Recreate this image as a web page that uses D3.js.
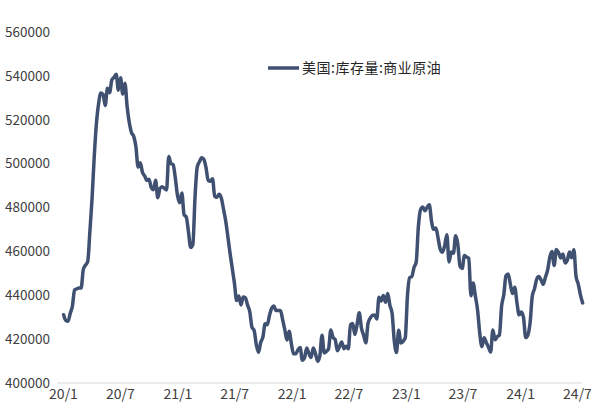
<!DOCTYPE html>
<html>
<head>
<meta charset="utf-8">
<script src="https://cdn.jsdelivr.net/npm/d3@7"></script>
<style>
  body { margin: 0; background: #fff; }
  svg text { font-family: "Noto Sans CJK SC", "Noto Sans", sans-serif; }
</style>
</head>
<body>
<div id="chart"></div>
<script>
// weekly US commercial crude stocks (thousand barrels), first week ending 2020-01-03
const SERIES_NAME = "美国:库存量:商业原油";
const START_DATE = new Date(2020, 0, 3);

const stocks2020 = [431100, 428500, 428100, 431700, 435000, 442500, 442900, 443300, 443300, 451800,
  453700, 455400, 469200, 484400, 503600, 518600, 527600, 532200, 531500, 526500,
  534400, 532300, 538100, 539300, 540700, 533500, 539200, 531700, 536600, 526000,
  518600, 514100, 512500, 507800, 498400, 500400, 496000, 494400, 492400, 492900,
  489100, 488100, 492400, 484400, 488700, 489500, 488700, 488000, 503200, 500100,
  499500, 493500];
const stocks2021 = [485500, 482200, 486600, 476700, 475700, 469000, 461800, 463000, 484600, 498400,
  500800, 502700, 502000, 498300, 492400, 492000, 493100, 485100, 484700, 486000,
  484300, 479300, 474000, 466700, 459100, 452300, 445500, 437600, 439700, 435600,
  439200, 438800, 435500, 432500, 425400, 423900, 417400, 414000, 418500, 420900,
  427000, 426500, 430800, 434100, 435100, 433000, 433000, 433100, 428900, 424300,
  419600, 423600, 417900];
const stocks2022 = [413300, 413300, 415100, 416200, 410400, 411500, 416000, 413400, 411600, 415900,
  413400, 409900, 412400, 421800, 413700, 414400, 415700, 424200, 420800, 419800,
  414700, 416800, 418700, 415600, 416800, 415600, 426600, 427100, 422100, 426600,
  432000, 425000, 421700, 418300, 427200, 429600, 430800, 431000, 429200, 439100,
  437400, 439900, 436800, 440800, 435400, 431700, 419100, 413900, 424100, 418200,
  419000, 420600];
const stocks2023 = [439600, 448000, 448500, 452700, 455100, 471400, 479000, 480200, 478500, 480100,
  481200, 473700, 470000, 470600, 466000, 460900, 459600, 462600, 467600, 455200,
  459700, 459100, 467100, 463300, 453200, 452200, 458100, 457400, 456800, 439800,
  445600, 439700, 433500, 422900, 416600, 420600, 418500, 416300, 414100, 424200,
  419700, 421100, 421900, 435000, 440200, 448900, 449700, 445000, 440800, 443700,
  436600, 431100];
const stocks2024 = [432400, 429900, 420700, 421900, 427400, 439500, 442900, 447200, 448500, 447000,
  445000, 448200, 451400, 457300, 460000, 453600, 460900, 459500, 457000, 458800,
  454700, 455900, 459700, 457100, 460700, 448500, 445100, 440200, 436500];

const Y_TICKS = [400000, 420000, 440000, 460000, 480000, 500000, 520000, 540000, 560000];
const X_TICKS = ["20/1", "20/7", "21/1", "21/7", "22/1", "22/7", "23/1", "23/7", "24/1", "24/7"];

const WIDTH = 591;
const HEIGHT = 405;
const MARGINS = {left: 57, right: 9, top: 32, bottom: 22};
const LINE_COLOR = "#3f5071";

const data = [].concat(stocks2020, stocks2021, stocks2022, stocks2023, stocks2024)
  .map((v, i) => ({date: d3.timeDay.offset(START_DATE, 7 * i), value: v}));

const svg = d3.select("#chart")
  .append("svg")
    .attr("width", WIDTH)
    .attr("height", HEIGHT);

// x scale: time, tick labels every half year
const X_SCALE = d3.scaleTime()
  .domain([new Date(2020, 0, 1), new Date(2024, 6, 1)])
  .range([63, 577]);

const Y_SCALE = d3.scaleLinear()
  .domain([400000, 560000])
  .range([HEIGHT - MARGINS.bottom, MARGINS.top]);

// baseline
svg.append("line")
  .attr("x1", MARGINS.left)
  .attr("x2", WIDTH - MARGINS.right)
  .attr("y1", Y_SCALE(400000))
  .attr("y2", Y_SCALE(400000))
  .attr("stroke", "#d9d9d9")
  .attr("stroke-width", 1);

// y axis labels
const yAxis = svg.append("g")
  .attr("transform", "translate(" + (MARGINS.left - 4) + ",0)")
  .call(d3.axisLeft(Y_SCALE).tickValues(Y_TICKS).tickSize(0).tickFormat(d3.format("d")));
yAxis.select(".domain").remove();
yAxis.selectAll("text")
  .attr("font-size", "13.5px")
  .attr("fill", "#404040")
  .attr("dx", 0);

// x axis labels
const tickDates = X_TICKS.map((t) => {
  const parts = t.split("/");
  return new Date(2000 + +parts[0], +parts[1] - 1, 1);
});
const xAxis = svg.append("g")
  .attr("transform", "translate(0," + Y_SCALE(400000) + ")")
  .call(d3.axisBottom(X_SCALE).tickValues(tickDates).tickSize(0)
    .tickFormat((d, i) => X_TICKS[i]));
xAxis.select(".domain").remove();
xAxis.selectAll("text")
  .attr("font-size", "14px")
  .attr("fill", "#404040")
  .attr("dy", "0.9em");

// series line
const line = d3.line()
  .x((d) => X_SCALE(d.date))
  .y((d) => Y_SCALE(d.value))
  .curve(d3.curveMonotoneX);

svg.append("path")
  .datum(data)
  .attr("d", line)
  .attr("fill", "none")
  .attr("stroke", LINE_COLOR)
  .attr("stroke-width", 3.5)
  .attr("stroke-linejoin", "round")
  .attr("stroke-linecap", "round");

// legend
const legend = svg.append("g").attr("transform", "translate(268,68)");
legend.append("line")
  .attr("x1", 0).attr("x2", 31)
  .attr("stroke", LINE_COLOR)
  .attr("stroke-width", 3.5);
legend.append("text")
  .attr("x", 34)
  .attr("y", 5)
  .attr("font-size", "14px")
  .attr("letter-spacing", "0.5px")
  .attr("fill", "#262626")
  .text(SERIES_NAME);
</script>
</body>
</html>
